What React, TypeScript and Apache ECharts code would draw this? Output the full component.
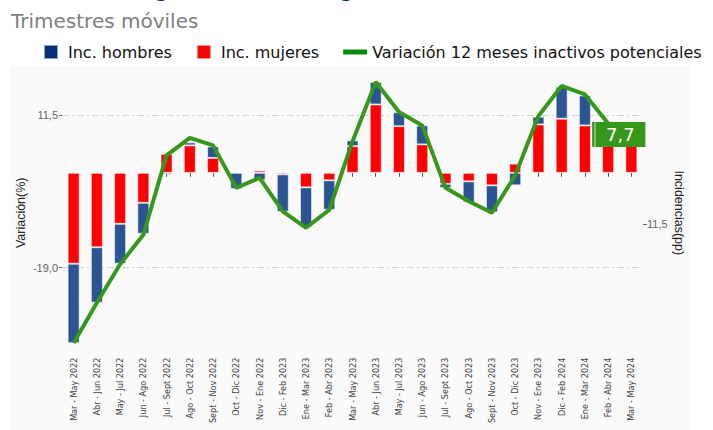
import React, { useEffect, useRef } from "react";
import * as echarts from "echarts";

const titleText = "Incidencias según sexo, total Bogotá";
const subtitleText = "Trimestres móviles";

const categories = [
  "Mar - May 2022", "Abr - Jun 2022", "May - Jul 2022", "Jun - Ago 2022", "Jul - Sept 2022",
  "Ago - Oct 2022", "Sept - Nov 2022", "Oct - Dic 2022", "Nov - Ene 2022", "Dic - Feb 2023",
  "Ene - Mar 2023", "Feb - Abr 2023", "Mar - May 2023", "Abr - Jun 2023", "May - Jul 2023",
  "Jun - Ago 2023", "Jul - Sept 2023", "Ago - Oct 2023", "Sept - Nov 2023", "Oct - Dic 2023",
  "Nov - Ene 2023", "Dic - Feb 2024", "Ene - Mar 2024", "Feb - Abr 2024", "Mar - May 2024",
];

const mujeres = [
  -18.2, -14.9, -10.2, -6.0, 3.8, 5.5, 3.0, 0.2, 0.45, -0.3,
  -2.9, -1.5, 5.35, 13.7, 9.35, 5.7, -2.2, -1.7, -2.5, 1.85,
  9.7, 10.85, 9.5, 8.0, 6.5,
];

const hombres = [
  -15.9, -11.1, -8.0, -6.2, -0.35, 0.6, 2.3, -3.2, -1.5, -7.5,
  -8.0, -5.9, 1.15, 4.5, 2.8, 3.8, -0.8, -4.2, -5.4, -2.5,
  1.55, 6.4, 6.0, 1.9, 1.2,
];

const variacion = [
  -34.1, -26.0, -18.3, -12.4, 3.5, 7.0, 5.5, -3.0, -1.0, -7.7,
  -11.0, -7.4, 6.3, 18.2, 12.2, 9.5, -3.0, -5.7, -8.0, -0.5,
  11.4, 17.4, 15.7, 9.9, 7.7,
];

const leftTicks = [-19, 11.5];
const rightTicks = [11.5];

const seriesNames = ["Inc. hombres", "Inc. mujeres", "Variación 12 meses inactivos potenciales"];

const fmt = (v: number) => Number(v).toFixed(1).replace(".", ",");

export default function App() {
  const ref = useRef<HTMLDivElement>(null);

  useEffect(() => {
    if (!ref.current) return;
    const chart = echarts.init(ref.current, null, { renderer: "svg" });
    const last = categories.length - 1;
    const green = "#36981a";
    const option: any = {
      animation: false,
      textStyle: { fontFamily: '"Liberation Sans", Arial, sans-serif' },
      graphic: [
        {
          type: "rect",
          z: -10,
          silent: true,
          shape: { x: 10, y: 66, width: 680, height: 364 },
          style: { fill: "#fafafa" },
        },
        {
          type: "text",
          x: 12,
          y: -19,
          style: { text: titleText, font: 'bold 18px "DejaVu Sans"', fill: "#0b2d6e" },
        },
        {
          type: "text",
          x: 11,
          y: 11,
          style: { text: subtitleText, font: '20px "DejaVu Sans"', fill: "#808080" },
        },
      ],
      legend: {
        top: 44,
        left: 43,
        width: 670,
        padding: 0,
        itemWidth: 24,
        itemHeight: 14,
        itemGap: 24,
        selectedMode: false,
        textStyle: { fontSize: 16, fontFamily: '"DejaVu Sans"', color: "#111" },
        data: [
          { name: seriesNames[0], icon: "path://M0 0H10V10H0Z", itemStyle: { color: "#0b2f74" } },
          { name: seriesNames[1], icon: "path://M0 0H10V10H0Z", itemStyle: { color: "#ff0000" } },
          { name: seriesNames[2], icon: "path://M0 0H24V5H0Z", itemStyle: { color: "#078a07" }, lineStyle: { width: 0 } },
        ],
      },
      grid: { left: 62, right: 70, top: 73, height: 279.6 },
      xAxis: {
        type: "category",
        data: categories,
        axisLine: { show: false },
        axisTick: { show: true, alignWithLabel: true, length: 4, lineStyle: { color: "#555" } },
        axisLabel: {
          rotate: 90,
          interval: 0,
          fontSize: 9,
          color: "#444",
          margin: 5,
          fontFamily: '"Liberation Sans Narrow", "Arial Narrow", "DejaVu Sans Condensed", sans-serif',
        },
      },
      yAxis: [
        {
          type: "value",
          min: -36,
          max: 20,
          axisLine: { show: false },
          splitLine: { show: false },
          axisTick: { show: true, customValues: leftTicks, length: 3, lineStyle: { color: "#666" } },
          axisLabel: { customValues: leftTicks, formatter: fmt, color: "#666", fontSize: 11, margin: 4 },
          name: "Variación(%)",
          nameLocation: "middle",
          nameMoveOverlap: false,
          nameGap: 35,
          nameTextStyle: { fontSize: 12.5, color: "#222" },
        },
        {
          type: "value",
          position: "right",
          inverse: true,
          min: -22.2,
          max: 40,
          axisLine: { show: false },
          splitLine: { show: false },
          axisTick: { show: true, customValues: rightTicks, length: 4, lineStyle: { color: "#666" } },
          axisLabel: { customValues: rightTicks, formatter: fmt, color: "#666", fontSize: 11, margin: 4 },
          name: "Incidencias(pp)",
          nameLocation: "middle",
          nameMoveOverlap: false,
          nameRotate: -90,
          nameGap: 29,
          nameTextStyle: { fontSize: 12.5, color: "#222" },
        },
      ],
      series: [
        {
          name: seriesNames[1],
          type: "bar",
          stack: "inc",
          data: mujeres,
          barWidth: 12,
          itemStyle: { color: "#ff0000", borderColor: "rgba(255,255,255,0.55)", borderWidth: 1 },
          markLine: {
            z: 1,
            silent: true,
            symbol: ["none", "none"],
            label: { show: false },
            lineStyle: { color: "#d2d2d2", type: [7, 3, 2, 3], width: 1 },
            data: leftTicks.map((v) => ({ yAxis: v })),
          },
        },
        {
          name: seriesNames[0],
          type: "bar",
          stack: "inc",
          data: hombres,
          barWidth: 12,
          itemStyle: { color: "#2c5394", borderColor: "rgba(255,255,255,0.55)", borderWidth: 1 },
        },
        {
          name: seriesNames[2],
          type: "line",
          data: variacion,
          showSymbol: false,
          z: 5,
          lineStyle: { width: 4, color: green },
          itemStyle: { color: green },
          markPoint: {
            z: 10,
            silent: true,
            data: [
              {
                coord: [categories[last], variacion[last]],
                value: variacion[last],
                symbol: "rect",
                symbolSize: [50, 25],
                symbolOffset: [-11, 0],
                itemStyle: { color: green },
                label: {
                  show: true,
                  position: "inside",
                  color: "#fff",
                  fontSize: 18,
                  fontFamily: '"DejaVu Sans"',
                  formatter: (p: any) => fmt(p.value),
                },
              },
              {
                coord: [categories[last], variacion[last]],
                value: variacion[last],
                symbol: "rect",
                symbolSize: [2.5, 25],
                symbolOffset: [-38, 0],
                itemStyle: { color: green },
                label: { show: false },
              },
            ],
          },
        },
      ],
    };
    chart.setOption(option);
    return () => chart.dispose();
  }, []);

  return (
    <div
      ref={ref}
      style={{ position: "absolute", left: 0, top: 0, width: 713, height: 430 }}
    />
  );
}
